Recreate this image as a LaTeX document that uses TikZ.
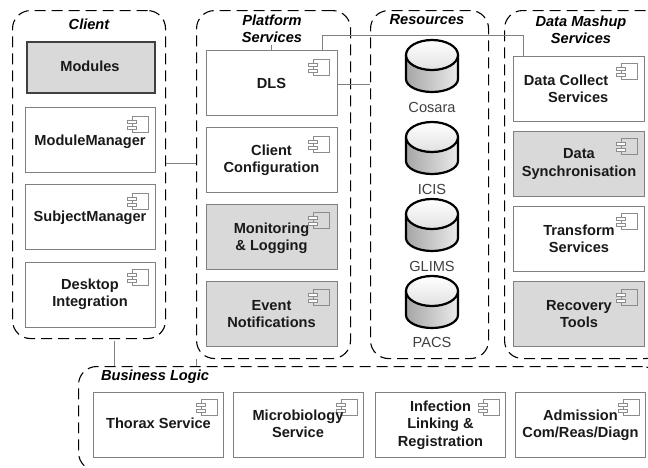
\documentclass[tikz,border=0pt]{standalone}
\usepackage{fontspec}
\setmainfont{Liberation Sans}
\begin{document}
\begin{tikzpicture}[x=1pt,y=-1pt,
  container/.style={draw=black,line width=1.1pt,dash pattern=on 11pt off 6pt,rounded corners=18pt,fill=none},
  plainbox/.style={draw=black!50,line width=0.9pt,fill=white},
  greybox/.style={draw=black!50,line width=0.9pt,fill=black!15},
  modbox/.style={draw=black!75,line width=1.6pt,fill=black!15},
  conn/.style={draw=black!50,line width=0.9pt},
  lbl/.style={font=\fontsize{14.6}{17.3}\selectfont\bfseries,align=center,inner sep=0pt,text=black!90},
  ttl/.style={font=\fontsize{14.6}{17.3}\selectfont\bfseries\itshape,align=center,inner sep=0pt},
  dbl/.style={font=\fontsize{14.6}{17.3}\selectfont,inner sep=0pt,text=black!75},
  iconline/.style={draw=black!45,line width=0.7pt}]
\newcommand{\comp}[2]{%
  \begin{scope}[shift={(#1,#2)}]
    \path[iconline,fill=none] (5,0) rectangle (21,16);
    \path[iconline,fill=white] (0,4) rectangle (9,7.5);
    \path[iconline,fill=white] (0,10) rectangle (9,13.5);
  \end{scope}}
\newcommand{\cyl}[2]{%
  \begin{scope}[shift={(#1,#2)}]
    \path[left color=black!35,right color=black!8,draw=none]
      (-26,15) -- (-26,39) arc[x radius=26,y radius=13,start angle=180,end angle=0] -- (26,15) -- cycle;
    \path[draw=black,line width=2.2pt,fill=none]
      (-26,15) -- (-26,39) arc[x radius=26,y radius=13,start angle=180,end angle=0] -- (26,15);
    \path[draw=black,line width=2.2pt,top color=white,bottom color=black!12] (0,15) ellipse[x radius=26,y radius=15];
  \end{scope}}
\useasboundingbox (0,0) rectangle (648,467);
\fill[white] (0,0) rectangle (648,467);

% anchors for free connector ends
\coordinate (platTitle) at (271.5,45);

% boxes
\node[modbox,minimum width=128pt,minimum height=51pt,anchor=north west] (modules) at (26,41) {};
\node[plainbox,minimum width=130pt,minimum height=65pt,anchor=north west] (modmgr) at (25,107) {};
\node[plainbox,minimum width=130pt,minimum height=65pt,anchor=north west] (subjmgr) at (25,184) {};
\node[plainbox,minimum width=130pt,minimum height=65pt,anchor=north west] (desktop) at (25,261.5) {};

\node[plainbox,minimum width=131pt,minimum height=65pt,anchor=north west] (dls) at (206,50) {};
\node[plainbox,minimum width=131pt,minimum height=65pt,anchor=north west] (cconf) at (206,127) {};
\node[greybox,minimum width=131pt,minimum height=65pt,anchor=north west] (monit) at (206,204) {};
\node[greybox,minimum width=131pt,minimum height=65pt,anchor=north west] (event) at (206,281) {};

\node[plainbox,minimum width=131pt,minimum height=65pt,anchor=north west] (dcoll) at (513,55.5) {};
\node[greybox,minimum width=131pt,minimum height=65pt,anchor=north west] (dsync) at (513,130.5) {};
\node[plainbox,minimum width=131pt,minimum height=65pt,anchor=north west] (trans) at (513,205.5) {};
\node[greybox,minimum width=131pt,minimum height=65pt,anchor=north west] (recov) at (513,281) {};

\node[plainbox,minimum width=130pt,minimum height=65pt,anchor=north west] (thorax) at (93,391.5) {};
\node[plainbox,minimum width=130pt,minimum height=65pt,anchor=north west] (micro) at (233,391.5) {};
\node[plainbox,minimum width=130pt,minimum height=65pt,anchor=north west] (infect) at (375,391.5) {};
\node[plainbox,minimum width=130pt,minimum height=65pt,anchor=north west] (admis) at (515,391.5) {};

% containers
\node[container,minimum width=153pt,minimum height=328pt,anchor=north west] (client) at (12,10) {};
\node[container,minimum width=154pt,minimum height=348pt,anchor=north west] (platform) at (196,10) {};
\node[container,minimum width=118pt,minimum height=348pt,anchor=north west] (resources) at (370,10) {};
\node[container,minimum width=159pt,minimum height=348pt,anchor=north west] (mashup) at (504,10) {};
\node[container,minimum width=582pt,minimum height=104pt,anchor=north west] (business) at (78,366) {};

% connectors
\draw[conn] (client.east |- 0,163) -- (platform.west |- 0,163);
\draw[conn] (client.south -| 114.5,0) ++(0,2) -- (business.north -| 114.5,0);
\draw[conn] (platform.south west) -- (platform.south west |- business.north);
\draw[conn] (platTitle) -- (dls.north -| platTitle);
\draw[conn] (dls.east |- 0,84) -- (resources.west |- 0,84);
\draw[conn] (dls.north -| 322,0) |- (523,35) -- (dcoll.north -| 523,0);

% icons
\comp{127}{116}\comp{127}{193}\comp{127}{269}
\comp{308}{59}\comp{308}{136}\comp{308}{212}\comp{308}{289}
\comp{616}{63}\comp{616}{138}\comp{616}{213}\comp{616}{289}
\comp{196}{399}\comp{336}{399}\comp{478}{399}\comp{618}{399}

% cylinders
\cyl{432}{40}\cyl{432}{122}\cyl{432}{199}\cyl{432}{276}

% text
\node[lbl] (t1) at (90,66) {Modules};
\node[lbl] (t2) at (90,141.5) {ModuleManager};
\node[lbl] (t3) at (90,217.5) {SubjectManager};
\node[lbl] (t4) at (90,294) {Desktop\\Integration};
\node[lbl] (t5) at (271.5,83) {DLS};
\node[lbl] (t6) at (271.5,160.5) {Client\\Configuration};
\node[lbl] (t7) at (271.5,238) {Monitoring\\\& Logging};
\node[lbl] (t8) at (271.5,314) {Event\\Notifications};
\node[lbl,align=right,anchor=east] (t9) at (608.5,88.5) {Data Collect\\Services};
\node[lbl] (t10) at (579,164) {Data\\Synchronisation};
\node[lbl] (t11) at (579,238.5) {Transform\\Services};
\node[lbl] (t12) at (579,314) {Recovery\\Tools};
\node[lbl] (t13) at (158.5,423.5) {Thorax Service};
\node[lbl] (t14) at (298,424) {Microbiology\\Service};
\node[lbl] (t15) at (440.5,425) {Infection\\Linking \&\\Registration};
\node[lbl] (t16) at (580.5,425) {Admission\\Com/Reas/Diagn};

\node[ttl] (h1) at (89,24.5) {Client};
\node[ttl] (h2) at (272,29) {Platform\\Services};
\node[ttl] (h3) at (427,20) {Resources};
\node[ttl] (h4) at (581,29.5) {Data Mashup\\Services};
\node[ttl] (h5) at (155,376.5) {Business Logic};

\node[dbl] (d1) at (432,107) {Cosara};
\node[dbl] (d2) at (432,189) {ICIS};
\node[dbl] (d3) at (432,266) {GLIMS};
\node[dbl] (d4) at (432,342.5) {PACS};
\end{tikzpicture}
\end{document}
